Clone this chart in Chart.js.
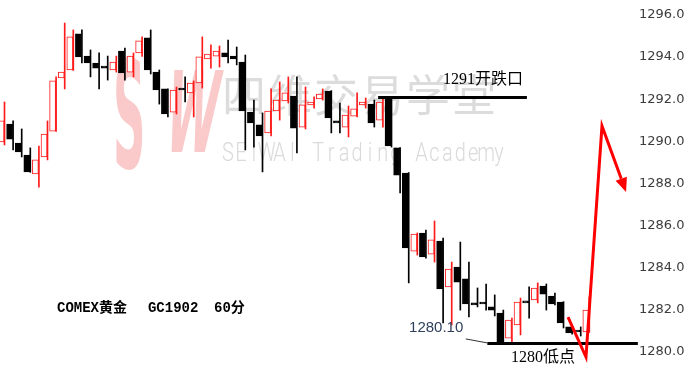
<!DOCTYPE html>
<html>
<head>
<meta charset="utf-8">
<script src="https://cdn.jsdelivr.net/npm/chart.js@4.4.1/dist/chart.umd.min.js"></script>
<style>
  html, body { margin: 0; padding: 0; background: #fff; }
</style>
</head>
<body>
<canvas id="chart" width="688" height="378"></canvas>
<script>
// COMEX gold GC1902, 60 min candles
const opens = [1289.97,1290.82,1289.92,1289.35,1288.45,1289.26,1290.49,1293.01,1293.39,1295.10,
  1294.05,1293.72,1293.58,1293.39,1294.29,1293.29,1294.20,1294.91,1293.29,1292.49,
  1291.39,1292.53,1292.30,1292.77,1293.91,1294.05,1294.20,1294.05,1293.77,1291.39,
  1290.78,1290.40,1291.44,1291.92,1292.15,1290.68,1291.73,1292.01,1292.39,1290.97,
  1290.68,1291.20,1291.73,1291.77,1291.01,1292.01,1289.69,1288.50,1284.79,1285.65,
  1284.65,1285.27,1283.09,1284.03,1283.47,1282.33,1282.37,1282.14,1281.85,1280.66,
  1281.28,1282.37,1282.47,1283.13,1282.66,1282.37,1281.19,1281.00,1280.95];
const highs = [1291.87,1290.97,1290.59,1289.69,1289.78,1290.97,1293.06,1295.62,1295.29,1295.29,
  1294.34,1294.20,1294.05,1294.05,1294.43,1294.20,1294.96,1295.29,1293.39,1292.50,
  1292.58,1293.06,1292.87,1294.96,1294.58,1294.53,1294.81,1294.48,1294.10,1291.96,
  1291.35,1292.49,1292.82,1293.06,1293.06,1292.58,1292.11,1292.49,1292.41,1291.82,
  1291.68,1292.30,1292.06,1291.96,1292.06,1292.06,1289.71,1288.52,1285.65,1285.79,
  1286.22,1285.41,1284.27,1285.22,1284.27,1283.04,1283.23,1282.71,1281.99,1281.61,
  1282.56,1283.09,1283.28,1283.23,1282.80,1282.39,1281.28,1281.19,1282.61];
const lows = [1289.83,1289.59,1289.26,1288.53,1287.83,1289.12,1290.47,1292.49,1293.37,1293.72,
  1293.06,1292.49,1292.91,1293.29,1292.91,1293.06,1294.03,1293.20,1291.77,1291.16,
  1291.30,1291.87,1291.16,1292.53,1293.48,1293.53,1293.72,1293.63,1289.59,1289.73,
  1288.55,1290.26,1291.01,1291.82,1289.45,1290.59,1291.58,1291.96,1290.40,1290.40,
  1290.21,1291.16,1291.58,1290.68,1290.68,1289.73,1287.55,1283.28,1284.60,1284.46,
  1284.27,1281.38,1281.28,1281.99,1281.66,1282.14,1281.99,1281.71,1280.43,1280.43,
  1280.81,1281.61,1282.33,1281.99,1282.23,1281.14,1280.85,1280.76,1280.93];
const closes = [1290.97,1290.11,1289.50,1288.55,1289.12,1290.35,1292.87,1293.29,1294.96,1294.01,
  1293.72,1293.48,1293.48,1293.77,1293.25,1294.05,1294.77,1293.39,1292.44,1291.30,
  1292.44,1292.44,1292.77,1294.01,1294.15,1294.29,1294.01,1293.91,1291.44,1290.87,
  1290.26,1291.44,1291.96,1292.30,1290.63,1291.73,1291.87,1292.25,1291.11,1290.87,
  1291.25,1291.54,1291.87,1290.87,1291.87,1289.78,1288.40,1284.94,1285.60,1284.51,
  1285.32,1282.99,1283.94,1283.32,1282.28,1282.23,1282.28,1281.99,1280.47,1281.52,
  1282.37,1282.33,1283.04,1282.75,1282.28,1281.38,1280.90,1280.95,1281.99];

const yTicks = [1280, 1282, 1284, 1286, 1288, 1290, 1292, 1294, 1296];

// drawn levels: [fromIndex, toIndex, price]
const levelLines = [[43.5, 60.8, 1292.13], [56.2, 73.7, 1280.42]];
const lowMarker = [[53.7, 1280.62], [56.2, 1280.43]];
const arrowPath = [[65.58, 1281.66], [67.67, 1279.76], [69.53, 1290.73], [72.33, 1287.60]];
const noteTexts = ['1291开跌口', '1280低点', '1280.10', 'COMEX黄金', 'GC1902', '60分'];
const notePos = [[51.05, 1292.91], [58.95, 1279.71], [47.1, 1281.14], [6.16, 1282.09], [16.74, 1282.09], [24.42, 1282.09]];

const UP = '#ff1a1a';
const DOWN = '#000000';

const isUp = closes.map((c, i) => c >= opens[i]);
const bodies = opens.map((o, i) => ({ x: i, y: [o, closes[i]] }));
const wicks = lows.map((l, i) => ({ x: i, y: [l, highs[i]] }));

const overlay = {
  id: 'overlay',
  beforeDatasetsDraw(chart) {
    const ctx = chart.ctx;
    ctx.save();
    // SW logo
    ctx.fillStyle = 'rgba(240,80,80,0.3)';
    ctx.font = 'bold 50px "DejaVu Sans"';
    ctx.textBaseline = 'alphabetic';
    ctx.save();
    ctx.setTransform(0.9, 0, 0, 3.0, 113, 168);
    ctx.fillText('S', 0, 0);
    ctx.restore();
    ctx.save();
    ctx.setTransform(0.95, 0, -0.3, 2.25, 162, 152);
    ctx.fillText('W', 0, 0);
    ctx.restore();
    // chinese watermark
    ctx.fillStyle = '#dcdcdc';
    ctx.font = '44px "Noto Sans CJK SC"';
    ctx.textAlign = 'center';
    const cn = '四维交易学堂';
    for (let k = 0; k < cn.length; k++) ctx.fillText(cn[k], 244 + k * 46, 112);
    // english watermark
    ctx.fillStyle = '#dadada';
    ctx.font = '300 25px Roboto';
    const en = 'SEIWAI Trading Academy';
    for (let k = 0; k < en.length; k++) {
      ctx.save();
      ctx.setTransform(0.8, 0, 0, 1, 228 + k * 12.9, 161);
      ctx.fillText(en[k], 0, 0);
      ctx.restore();
    }
    ctx.restore();
  },
  afterDatasetsDraw(chart) {
    const ctx = chart.ctx;
    const xs = chart.scales.x, ys = chart.scales.y;
    const px = v => xs.getPixelForValue(v);
    const py = v => ys.getPixelForValue(v);
    ctx.save();
    // level lines
    ctx.strokeStyle = '#000';
    ctx.lineWidth = 3;
    levelLines.forEach(([a, b, p]) => {
      ctx.beginPath();
      ctx.moveTo(px(a), Math.round(py(p)) + 0.5);
      ctx.lineTo(px(b), Math.round(py(p)) + 0.5);
      ctx.stroke();
    });
    ctx.lineWidth = 1;
    ctx.strokeStyle = '#333';
    ctx.beginPath();
    ctx.moveTo(px(lowMarker[0][0]), py(lowMarker[0][1]));
    ctx.lineTo(px(lowMarker[1][0]), py(lowMarker[1][1]));
    ctx.stroke();

    // red arrow
    ctx.strokeStyle = '#ff0000';
    ctx.fillStyle = '#ff0000';
    ctx.lineWidth = 3;
    ctx.lineJoin = 'miter';
    const pts = arrowPath.map(([i, p]) => [px(i), py(p)]);
    const [tx, ty] = pts[pts.length - 1];
    const [fx, fy] = pts[pts.length - 2];
    const ang = Math.atan2(ty - fy, tx - fx);
    const headLen = 14, headW = 6;
    const bx = tx - headLen * Math.cos(ang), by = ty - headLen * Math.sin(ang);
    ctx.beginPath();
    ctx.moveTo(pts[0][0], pts[0][1]);
    for (let k = 1; k < pts.length - 1; k++) ctx.lineTo(pts[k][0], pts[k][1]);
    ctx.lineTo(bx, by);
    ctx.stroke();
    ctx.beginPath();
    ctx.moveTo(tx, ty);
    ctx.lineTo(bx + headW * Math.sin(ang), by - headW * Math.cos(ang));
    ctx.lineTo(bx - headW * Math.sin(ang), by + headW * Math.cos(ang));
    ctx.closePath();
    ctx.fill();

    // notes
    const fonts = ['16px "Liberation Serif", "Noto Sans CJK SC"', '16px "Liberation Serif", "Noto Sans CJK SC"',
      '15px "Liberation Sans"', 'bold 14px "Liberation Mono", "Noto Sans CJK SC"',
      'bold 14px "Liberation Mono", "Noto Sans CJK SC"', 'bold 14px "Liberation Mono", "Noto Sans CJK SC"'];
    const colors = ['#000', '#000', '#2e3f5c', '#000', '#000', '#000'];
    ctx.textAlign = 'left';
    ctx.textBaseline = 'middle';
    noteTexts.forEach((t, k) => {
      ctx.font = fonts[k];
      ctx.fillStyle = colors[k];
      ctx.fillText(t, px(notePos[k][0]), py(notePos[k][1]));
    });
    ctx.restore();
  }
};

new Chart(document.getElementById('chart'), {
  type: 'bar',
  data: {
    datasets: [
      {
        label: 'body',
        data: bodies,
        order: 0,
        barThickness: 6,
        minBarLength: 2,
        borderWidth: 1,
        borderSkipped: false,
        backgroundColor: isUp.map(u => u ? '#ffffff' : DOWN),
        borderColor: isUp.map(u => u ? UP : DOWN)
      },
      {
        label: 'wick',
        data: wicks,
        order: 1,
        barThickness: 1,
        borderWidth: 0,
        backgroundColor: isUp.map(u => u ? UP : DOWN)
      }
    ]
  },
  options: {
    responsive: false,
    animation: false,
    layout: { padding: 0 },
    plugins: { legend: { display: false }, tooltip: { enabled: false } },
    scales: {
      x: {
        type: 'linear',
        display: false,
        offset: false,
        stacked: false,
        min: -0.465,
        max: 73.02
      },
      y: {
        position: 'right',
        min: 1278.765,
        max: 1296.712,
        grid: { display: false, drawTicks: false },
        border: { display: false },
        afterBuildTicks: axis => { axis.ticks = yTicks.map(v => ({ value: v })); },
        afterFit: axis => {
          axis.width = 56;
          axis.paddingTop = 0;
          axis.paddingBottom = 0;
        },
        ticks: {
          padding: 7,
          color: '#3c3c3c',
          font: { family: '"DejaVu Sans"', size: 13 },
          callback: v => Number(v).toFixed(1)
        }
      }
    }
  },
  plugins: [overlay]
});
</script>
</body>
</html>
